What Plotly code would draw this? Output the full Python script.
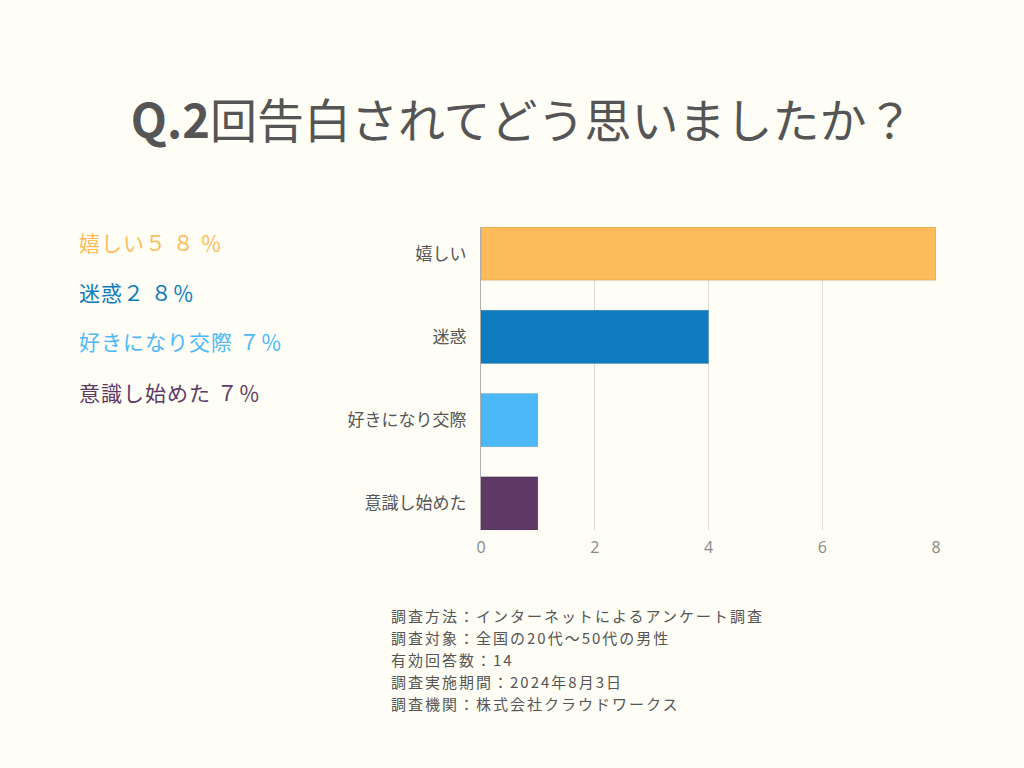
import plotly.graph_objects as go

categories = ["嬉しい", "迷惑", "好きになり交際", "意識し始めた"]
counts = [8, 4, 1, 1]
colors = ["#FDBB5A", "#0D7BBE", "#4DB8F7", "#5E3966"]
legend_texts = ["嬉しい５ ８ ％", "迷惑２ ８％", "好きになり交際 ７％", "意識し始めた ７％"]
x_ticks = [0, 2, 4, 6, 8]
footnotes = [
    "調査方法：インターネットによるアンケート調査",
    "調査対象：全国の20代〜50代の男性",
    "有効回答数：14",
    "調査実施期間：2024年8月3日",
    "調査機関：株式会社クラウドワークス",
]
title_text = "<b>Q.2</b>回告白されてどう思いましたか？"

BG = "#FEFEF6"
FONT = "Noto Sans CJK JP"

PL, PT, PR, PB = 481, 227, 936, 530
PW, PH = PR - PL, PB - PT


def px(x):
    return (x - PL) / PW


def py(y):
    return (PB - y) / PH


fig = go.Figure()
fig.add_trace(go.Bar(
    x=counts, y=categories, orientation="h",
    marker=dict(color=colors, line=dict(color="rgba(0,0,0,0.10)", width=1)),
    width=0.64, hoverinfo="x+y",
))

fig.update_layout(
    width=1024, height=768,
    paper_bgcolor=BG, plot_bgcolor=BG,
    margin=dict(l=PL, r=1024 - PR, t=PT, b=768 - PB),
    showlegend=False,
    font=dict(family=FONT, color="#555555"),
    title=dict(text=title_text, x=0.51, xanchor="center", y=1 - 122 / 768, yanchor="middle",
               font=dict(family=FONT, size=47, color="#555555")),
    xaxis=dict(range=[0, 8], tickvals=x_ticks, showgrid=True, gridcolor="#DCDCD6",
               gridwidth=1, zeroline=False, showline=False,
               tickfont=dict(size=16, color="#888888", family="Open Sans"),
               ticks="", ticklabelstandoff=6, fixedrange=True),
    yaxis=dict(range=[3.32, -0.32], showgrid=False, showline=True, linecolor="#B0B0B0",
               linewidth=1, tickfont=dict(size=17, color="#555555"), ticks="",
               ticklabelstandoff=10, fixedrange=True),
)

ys = [242, 292, 341, 392]
for t, c, y in zip(legend_texts, colors, ys):
    fig.add_annotation(text=f'<span style="letter-spacing:1px">{t}</span>',
                       xref="paper", yref="paper", x=px(77), y=py(y),
                       xanchor="left", yanchor="middle", showarrow=False,
                       font=dict(size=21, color=c, family=FONT))

for i, t in enumerate(footnotes):
    y = 615 + 22 * i
    fig.add_annotation(text=f'<span style="letter-spacing:2px">{t}</span>',
                       xref="paper", yref="paper", x=px(389), y=py(y),
                       xanchor="left", yanchor="middle", showarrow=False,
                       font=dict(size=15, color="#555555", family=FONT))

fig.write_html(
    "out.html",
    config={"displayModeBar": False},
    post_script="document.body.style.margin='0';document.body.style.background='#FEFEF6';"
                "document.body.style.overflow='hidden';",
)
